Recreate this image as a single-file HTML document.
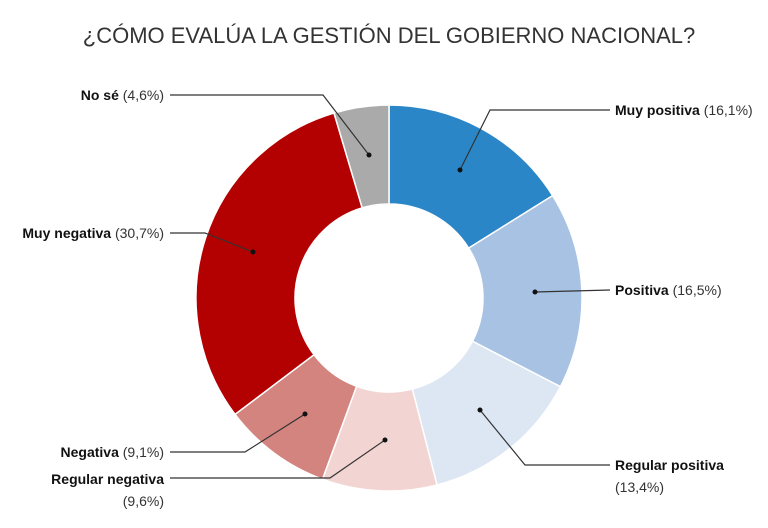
<!DOCTYPE html>
<html><head><meta charset="utf-8"><style>
body{margin:0;background:#fff;width:768px;height:528px;overflow:hidden}
svg{display:block}
text{font-family:"Liberation Sans",sans-serif;font-size:14px;fill:#111}
.b{font-weight:bold}
.n{fill:#333}
</style></head><body>
<svg id="s" width="768" height="528" viewBox="0 0 768 528">
<text x="389" y="43" text-anchor="middle" style="font-size:22px;fill:#333">¿CÓMO EVALÚA LA GESTIÓN DEL GOBIERNO NACIONAL?</text>
<g id="pie"></g>
<g stroke="#333" stroke-width="1.2" fill="none">
<polyline points="460,170 490,110 610,110"/>
<polyline points="535,292 610,290"/>
<polyline points="480,410 525,465 610,465"/>
<polyline points="385,440 330,478 170,478"/>
<polyline points="305,414 245,452 170,452"/>
<polyline points="253,252 205,233 170,233"/>
<polyline points="369,155 323,95 170,95"/>
</g>
<g fill="#111">
<circle cx="460" cy="170" r="2.5"/><circle cx="535" cy="292" r="2.5"/><circle cx="480" cy="410" r="2.5"/>
<circle cx="385" cy="440" r="2.5"/><circle cx="305" cy="414" r="2.5"/><circle cx="253" cy="252" r="2.5"/><circle cx="369" cy="155" r="2.5"/>
</g>
<text x="615" y="115"><tspan class="b">Muy positiva</tspan> <tspan class="n">(16,1%)</tspan></text>
<text x="615" y="295"><tspan class="b">Positiva</tspan> <tspan class="n">(16,5%)</tspan></text>
<text x="615" y="470"><tspan class="b">Regular positiva</tspan></text>
<text x="615" y="492" class="n">(13,4%)</text>
<text x="164" y="100" text-anchor="end"><tspan class="b">No sé</tspan> <tspan class="n">(4,6%)</tspan></text>
<text x="164" y="238" text-anchor="end"><tspan class="b">Muy negativa</tspan> <tspan class="n">(30,7%)</tspan></text>
<text x="164" y="457" text-anchor="end"><tspan class="b">Negativa</tspan> <tspan class="n">(9,1%)</tspan></text>
<text x="164" y="484" text-anchor="end" class="b">Regular negativa</text>
<text x="164" y="506" text-anchor="end" class="n">(9,6%)</text>
</svg>
<script>
var d=[[16.1,"#2b86c7"],[16.5,"#a7c2e3"],[13.4,"#dde6f3"],[9.6,"#f2d4d2"],[9.1,"#d4847e"],[30.7,"#b30000"],[4.6,"#aaaaaa"]];
var cx=389,cy=298,R=193,r=94,a=0,h="";
function p(rad,ang){return [cx+rad*Math.sin(ang),cy-rad*Math.cos(ang)];}
d.forEach(function(s){var a0=a/100*2*Math.PI;a+=s[0];var a1=a/100*2*Math.PI;var L=(a1-a0)>Math.PI?1:0;
var A=p(R,a0),B=p(R,a1),C=p(r,a1),D=p(r,a0);
h+='<path d="M'+A+' A'+R+','+R+' 0 '+L+' 1 '+B+' L'+C+' A'+r+','+r+' 0 '+L+' 0 '+D+'Z" fill="'+s[1]+'" stroke="#fff" stroke-width="1.5"/>';});
document.getElementById("pie").innerHTML=h;
</script>
</body></html>
